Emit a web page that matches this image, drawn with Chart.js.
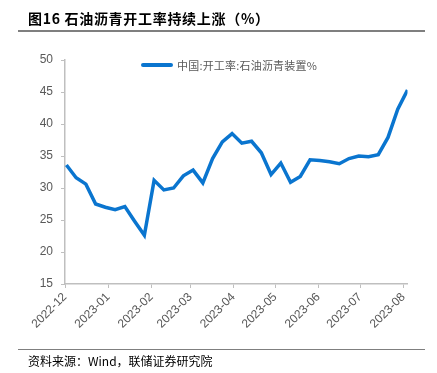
<!DOCTYPE html>
<html>
<head>
<meta charset="utf-8">
<script src="https://cdn.jsdelivr.net/npm/chart.js@4"></script>
<style>
  body { margin: 0; width: 437px; height: 373px; background: #fff; position: relative; overflow: hidden; }
  #title { position: absolute; left: 28px; top: 8px; font: bold 14px "Noto Sans CJK SC", sans-serif; color: #000; white-space: nowrap; letter-spacing: 0.7px; }
  #topRule { position: absolute; left: 18px; top: 30px; width: 407px; height: 2px; background: #7f7f7f; }
  #bottomRule { position: absolute; left: 18px; top: 349px; width: 407px; height: 1px; background: #7f7f7f; }
  #source { position: absolute; left: 28px; top: 352px; font: 12px "Noto Sans CJK SC", sans-serif; color: #000; white-space: nowrap; }
  #legend { position: absolute; left: 141px; top: 57px; font: 11px "Noto Sans CJK SC", sans-serif; color: #595959; white-space: nowrap; display: flex; align-items: center; letter-spacing: 0.2px; }
  #legend span.swatch { display: inline-block; width: 32px; height: 4px; background: #0a75cf; margin-right: 4px; border-radius: 2px; }
  #wrap { position: absolute; left: 0; top: 0; width: 437px; height: 373px; }
</style>
</head>
<body>
<div id="wrap"><canvas id="myChart" width="437" height="373"></canvas></div>
<div id="title">图16 石油沥青开工率持续上涨（%）</div>
<div id="topRule"></div>
<div id="legend"><span class="swatch"></span>中国:开工率:石油沥青装置%</div>
<div id="bottomRule"></div>
<div id="source">资料来源：Wind，联储证券研究院</div>
<script>
'use strict'
// weekly dates and values (%)
let dates = ['2022-12-02', '2022-12-09', '2022-12-16', '2022-12-23', '2022-12-30',
  '2023-01-06', '2023-01-13', '2023-01-20', '2023-01-27', '2023-02-03', '2023-02-10',
  '2023-02-17', '2023-02-24', '2023-03-03', '2023-03-10', '2023-03-17', '2023-03-24',
  '2023-03-31', '2023-04-07', '2023-04-14', '2023-04-21', '2023-04-28', '2023-05-05',
  '2023-05-12', '2023-05-19', '2023-05-26', '2023-06-02', '2023-06-09', '2023-06-16',
  '2023-06-23', '2023-06-30', '2023-07-07', '2023-07-14', '2023-07-21', '2023-07-28',
  '2023-08-04'];
let values = [33.6, 31.6, 30.6, 27.5, 27.0, 26.6, 27.1, 24.8, 22.6, 31.2, 29.7,
  30.0, 31.9, 32.8, 30.8, 34.6, 37.2, 38.5, 37.0, 37.3, 35.5, 32.1, 33.9,
  30.9, 31.8, 34.4, 34.3, 34.1, 33.8, 34.6, 35.0, 34.9, 35.2, 37.9, 42.3,
  45.3];
let monthLabels = ['2022-12', '2023-01', '2023-02', '2023-03', '2023-04',
  '2023-05', '2023-06', '2023-07', '2023-08'];
let seriesName = '中国:开工率:石油沥青装置%';

let startDay = Date.UTC(2022, 11, 1);
function dayOf(str) {
    let p = str.split('-');
    let d = p.length > 2 ? +p[2] : 1;
    return (Date.UTC(+p[0], +p[1] - 1, d) - startDay) / 86400000;
}

let points = [];
for (let i = 0; i < dates.length; i++) {
    points.push({ x: dayOf(dates[i]), y: values[i] });
}

let axisGray = '#bfbfbf';
let textGray = '#595959';

let ctx = document.getElementById('myChart').getContext('2d');
let myChart = new Chart(ctx, {
    type: 'line',
    data: {
        datasets: [{
            label: seriesName,
            data: points,
            borderColor: '#0a75cf',
            borderWidth: 3.5,
            pointRadius: 0,
            tension: 0,
            fill: false
        }]
    },
    options: {
        responsive: false,
        animation: false,
        layout: { padding: { top: 60, right: 29.5, left: 0, bottom: 0 } },
        plugins: {
            legend: { display: false },
            tooltip: { enabled: false }
        },
        scales: {
            x: {
                type: 'linear',
                min: 0,
                max: dayOf(dates[dates.length - 1]),
                afterBuildTicks: function (scale) {
                    scale.ticks = monthLabels.map(function (m) { return { value: dayOf(m) }; });
                },
                afterFit: function (scale) { scale.height = 89; },
                grid: { display: true, drawOnChartArea: false, color: axisGray, tickLength: 4, lineWidth: 1 },
                border: { color: axisGray, width: 1.5 },
                ticks: {
                    autoSkip: false,
                    minRotation: 45,
                    maxRotation: 45,
                    padding: 2,
                    color: textGray,
                    font: { family: 'Liberation Sans, Arial, sans-serif', size: 12 },
                    callback: function (value, index) { return monthLabels[index]; }
                }
            },
            y: {
                min: 15,
                max: 50,
                afterFit: function (scale) { scale.width = 65; },
                grid: { display: true, drawOnChartArea: false, color: axisGray, tickLength: 4, lineWidth: 1 },
                border: { color: axisGray, width: 1.5 },
                ticks: {
                    stepSize: 5,
                    padding: 8,
                    color: textGray,
                    font: { family: 'Liberation Sans, Arial, sans-serif', size: 12 }
                }
            }
        }
    }
});
</script>
</body>
</html>
